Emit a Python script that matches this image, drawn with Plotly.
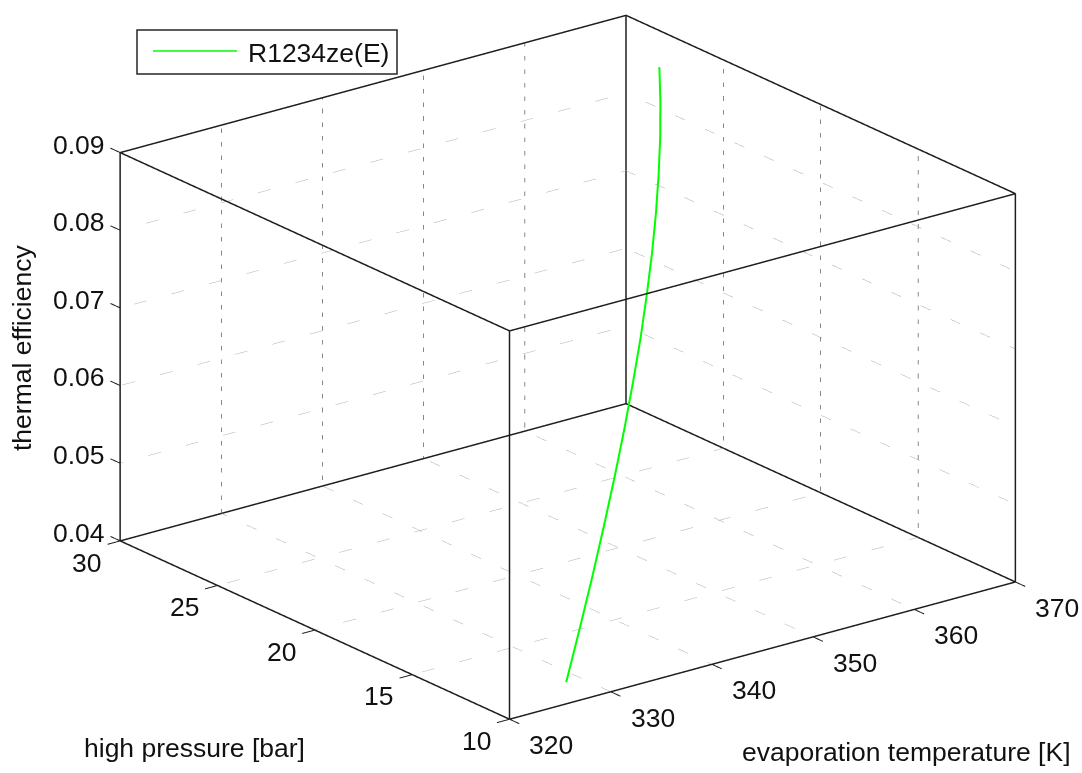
import plotly.graph_objects as go

# R1234ze(E) cycle: evaporation temperature [K], high pressure [bar], thermal efficiency [-]
temperature = [328, 331, 334, 337, 340, 343, 346, 349, 352, 355, 358, 361, 364, 367, 370]
pressure = [11.25, 12.11, 13.02, 13.98, 14.99, 16.05, 17.17, 18.34, 19.58, 20.87,
            22.23, 23.65, 25.13, 26.68, 28.29]
efficiency = [0.0405, 0.0454, 0.0500, 0.0544, 0.0585, 0.0624, 0.0660, 0.0693, 0.0724,
              0.0752, 0.0777, 0.0800, 0.0820, 0.0838, 0.0853]

x_ticks = [320, 330, 340, 350, 360, 370]
y_ticks = [10, 15, 20, 25, 30]
z_ticks = [0.04, 0.05, 0.06, 0.07, 0.08, 0.09]
z_tick_text = ["0.04", "0.05", "0.06", "0.07", "0.08", "0.09"]

series_name = "R1234ze(E)"
x_title = "evaporation temperature [K]"
y_title = "high pressure [bar]"
z_title = "thermal efficiency"

FONT = "Liberation Sans, Arial, Helvetica, sans-serif"
FS = 26.5
W, H = 1082, 773

x0, x1 = x_ticks[0], x_ticks[-1]
y0, y1 = y_ticks[0], y_ticks[-1]
z0, z1 = z_ticks[0], z_ticks[-1]

# tick mark lengths (data units)
tlx = 0.025 * (x1 - x0)
tly = 0.025 * (y1 - y0)


def segments(pairs):
    xs, ys, zs = [], [], []
    for a, b in pairs:
        xs += [a[0], b[0], None]
        ys += [a[1], b[1], None]
        zs += [a[2], b[2], None]
    return xs, ys, zs


def line_trace(pairs, color, width, dash="solid"):
    xs, ys, zs = segments(pairs)
    return go.Scatter3d(x=xs, y=ys, z=zs, mode="lines",
                        line=dict(color=color, width=width, dash=dash),
                        hoverinfo="skip", showlegend=False)


def path_trace(points, color, width):
    return go.Scatter3d(x=[p[0] for p in points], y=[p[1] for p in points],
                        z=[p[2] for p in points], mode="lines",
                        line=dict(color=color, width=width),
                        hoverinfo="skip", showlegend=False)


fig = go.Figure()

# dotted grid on the three back planes
grid_vert = []
grid_flat = []
for t in x_ticks[1:-1]:
    grid_flat.append(((t, y0, z0), (t, y1, z0)))
    grid_vert.append(((t, y1, z0), (t, y1, z1)))
for p in y_ticks[1:-1]:
    grid_flat.append(((x0, p, z0), (x1, p, z0)))
    grid_vert.append(((x1, p, z0), (x1, p, z1)))
for z in z_ticks[1:-1]:
    grid_flat.append(((x0, y1, z), (x1, y1, z)))
    grid_flat.append(((x1, y0, z), (x1, y1, z)))
fig.add_trace(line_trace(grid_flat, "#b0b0b0", 1, "dot"))
fig.add_trace(line_trace(grid_vert, "#111111", 1, "dot"))

# box outline: bottom loop, top loop and the four verticals
edge_col, edge_w = "#1e1e1e", 3
bottom = [(x0, y0, z0), (x1, y0, z0), (x1, y1, z0), (x0, y1, z0), (x0, y0, z0)]
top = [(x0, y0, z1), (x1, y0, z1), (x1, y1, z1), (x0, y1, z1), (x0, y0, z1)]
fig.add_trace(path_trace(bottom, edge_col, edge_w))
fig.add_trace(path_trace(top, edge_col, edge_w))
for xx in (x0, x1):
    for yy in (y0, y1):
        fig.add_trace(path_trace([(xx, yy, z0), (xx, yy, z1)], edge_col, edge_w))

# tick marks
ticks = []
for z in z_ticks:
    ticks.append(((x0, y1, z), (x0, y1 + tly, z)))
for p in y_ticks:
    ticks.append(((x0, p, z0), (x0 - tlx, p, z0)))
for t in x_ticks:
    ticks.append(((t, y0, z0), (t, y0 - tly, z0)))
fig.add_trace(line_trace(ticks, "#1e1e1e", 2))

# data curve
fig.add_trace(go.Scatter3d(x=temperature, y=pressure, z=efficiency, mode="lines",
                           line=dict(color="#00ff00", width=4),
                           name=series_name, showlegend=False))

tick_font = dict(family=FONT, size=FS, color="#111111")
scene_ann = []
for z, s in zip(z_ticks, z_tick_text):
    scene_ann.append(dict(x=x0, y=y1, z=z, text=s, showarrow=False, xanchor="right",
                          yanchor="middle", xshift=-13, yshift=8, font=tick_font))
for p in y_ticks:
    scene_ann.append(dict(x=x0, y=p, z=z0, text=str(p), showarrow=False, xanchor="center",
                          yanchor="middle", xshift=-33, yshift=-22, font=tick_font))
for t in x_ticks:
    scene_ann.append(dict(x=t, y=y0, z=z0, text=str(t), showarrow=False, xanchor="center",
                          yanchor="middle", xshift=42, yshift=-26, font=tick_font))

# scene ranges padded on every side so nothing sits on a clipping plane
px, py, pz = 0.01 * (x1 - x0), 0.01 * (y1 - y0), 0.01 * (z1 - z0)
xr = [x0 - tlx - px, x1 + px]
yr = [y0 - tly - py, y1 + tly + py]
zr = [z0 - pz, z1 + pz]
zoom = 1.73
ax_x = zoom * (xr[1] - xr[0]) / (x1 - x0)
ax_y = zoom * (yr[1] - yr[0]) / (y1 - y0)
ax_z = zoom * 0.65 * (zr[1] - zr[0]) / (z1 - z0)

eye_dir = (-0.5708, -0.7416, 0.3525)
eye_len = 2.0

hidden = dict(visible=False, showspikes=False)
fig.update_layout(
    width=W, height=H,
    margin=dict(l=0, r=0, t=0, b=0),
    paper_bgcolor="white",
    showlegend=False,
    scene=dict(
        xaxis=dict(range=xr, **hidden),
        yaxis=dict(range=yr, **hidden),
        zaxis=dict(range=zr, **hidden),
        aspectmode="manual",
        aspectratio=dict(x=ax_x, y=ax_y, z=ax_z),
        camera=dict(projection=dict(type="orthographic"),
                    eye=dict(x=eye_dir[0] * eye_len, y=eye_dir[1] * eye_len,
                             z=eye_dir[2] * eye_len),
                    up=dict(x=0, y=0, z=1), center=dict(x=0, y=0, z=0)),
        domain=dict(x=[0.0375, 1.0], y=[0.0456, 1.0]),
        bgcolor="white",
        annotations=scene_ann,
    ),
)

# axis titles
fig.add_annotation(x=22 / W, y=1 - 348 / H, xref="paper", yref="paper", text=z_title,
                   textangle=-90, showarrow=False, xanchor="center", yanchor="middle",
                   font=tick_font)
fig.add_annotation(x=82 / W, y=1 - 748 / H, xref="paper", yref="paper", text=y_title,
                   showarrow=False, xanchor="left", yanchor="middle", font=tick_font)
fig.add_annotation(x=1073 / W, y=1 - 752 / H, xref="paper", yref="paper", text=x_title,
                   showarrow=False, xanchor="right", yanchor="middle", font=tick_font)

# legend box
fig.add_shape(type="rect", xref="paper", yref="paper", x0=137 / W, x1=397 / W,
              y0=1 - 74 / H, y1=1 - 30 / H, line=dict(color="#262626", width=1.5),
              fillcolor="white", layer="above")
fig.add_shape(type="line", xref="paper", yref="paper", x0=153 / W, x1=237 / W,
              y0=1 - 51 / H, y1=1 - 51 / H, line=dict(color="#00ff00", width=1.5),
              layer="above")
fig.add_annotation(x=246 / W, y=1 - 53 / H, xref="paper", yref="paper", text=series_name,
                   showarrow=False, xanchor="left", yanchor="middle", font=tick_font)

fig.write_html("out.html")
